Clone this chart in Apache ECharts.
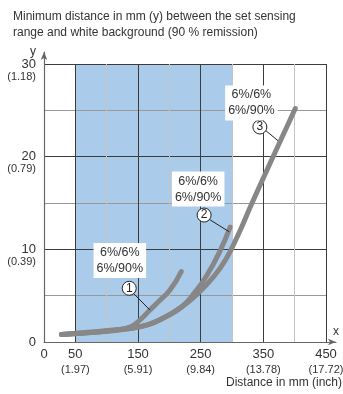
<!DOCTYPE html>
<html><head><meta charset="utf-8">
<script src="https://cdn.jsdelivr.net/npm/echarts@6/dist/echarts.min.js"></script>
<style>html,body{margin:0;padding:0;background:#fff}#c{width:343px;height:394px}</style>
</head><body><div id="c"></div>
<script>
// ---- data ----
const titleText = 'Minimum distance in mm (y) between the set sensing\nrange and white background (90 % remission)';
const xTickMm = [0, 50, 150, 250, 350, 450];
const xTickInch = ['', '(1.97)', '(5.91)', '(9.84)', '(13.78)', '(17.72)'];
const yTickMm = [0, 10, 20, 30];
const yTickInch = ['', '(0.39)', '(0.79)', '(1.18)'];
const xAxisName = 'Distance in mm (inch)';
const bandX = [50, 300];
const bandTop = 30;

const curve1X = [28, 70, 110, 137, 155, 169, 185, 201, 219];
const curve1Y = [0.8, 1.05, 1.3, 1.6, 2.5, 3.45, 4.5, 5.6, 7.6];
const curve2X = [28, 80, 130, 165, 195, 220, 240, 260, 280, 297];
const curve2Y = [0.8, 1.05, 1.4, 1.85, 2.75, 3.8, 5.3, 7.2, 9.7, 12.4];
const curve3X = [28, 80, 130, 165, 195, 220, 245, 270, 290, 310, 332, 367, 401];
const curve3Y = [0.8, 1.05, 1.4, 1.85, 2.75, 3.8, 5.2, 7.0, 8.9, 11.6, 15.0, 20.2, 25.2];

const curveText = '6%/6%\n6%/90%';
const curveNumbers = ['1', '2', '3'];
const textAnchor = [[121, 8.8], [246, 16.5], [331, 25.8]];
const circleAnchor = [[136, 5.8], [255.5, 13.7], [344.5, 23.2]];
const leaderFrom = [[142, 5.3], [264.6, 13.2], [352.3, 22.9]];
const leaderTo = [[169, 3.45], [295.4, 11.9], [377.4, 21.5]];

// ---- build ----
const FONT = 'Liberation Sans';
const TXT = '#333';
const zip = (xs, ys) => xs.map((x, i) => [x, ys[i]]);
const curves = [zip(curve1X, curve1Y), zip(curve2X, curve2Y), zip(curve3X, curve3Y)];

function curveSeries(i) {
  return {
    type: 'line', xAxisIndex: 0, yAxisIndex: 0, data: curves[i], smooth: 0.5,
    showSymbol: false, symbol: 'none', z: 3 + i,
    lineStyle: { color: '#878787', width: 5, cap: 'round', join: 'round' },
    markPoint: {
      silent: true, animation: false,
      data: [
        { coord: textAnchor[i], symbol: 'rect', symbolSize: [1, 1], itemStyle: { color: 'rgba(0,0,0,0)' },
          label: { show: true, position: 'inside', formatter: curveText, backgroundColor: '#fff', padding: [2, 3, 1, 3],
                   fontFamily: FONT, fontSize: 12.5, lineHeight: 16, color: TXT, align: 'center' } },
        { coord: circleAnchor[i], symbol: 'circle', symbolSize: 14,
          itemStyle: { color: '#fff', borderColor: '#222', borderWidth: 1 },
          label: { show: true, position: 'inside', formatter: curveNumbers[i], fontFamily: FONT, fontSize: 12, color: '#222' } }
      ]
    },
    markLine: {
      silent: true, animation: false, symbol: ['none', 'none'],
      lineStyle: { color: '#222', width: 1, type: 'solid' }, label: { show: false },
      data: [[{ coord: leaderFrom[i] }, { coord: leaderTo[i] }]]
    }
  };
}

const option = {
  animation: false,
  title: { text: titleText, left: 8, top: 4, textStyle: { fontFamily: FONT, fontSize: 12, fontWeight: 'normal', color: TXT, lineHeight: 16 } },
  grid: [
    { left: 44, right: 17, top: 64, bottom: 52, outerBoundsMode: 'none', containLabel: false },
    { left: 44, right: 7, top: 52, bottom: 52, outerBoundsMode: 'none', containLabel: false }
  ],
  xAxis: [
    { type: 'value', gridIndex: 0, min: 0, max: 450, interval: 50,
      axisLine: { show: false }, axisTick: { show: false },
      splitLine: { show: true, lineStyle: { color: ['#c4c4c4', '#3c3c3c'], width: 1 } },
      axisLabel: { margin: 5, showMinLabel: true, showMaxLabel: true, hideOverlap: false,
        formatter: v => { const k = xTickMm.indexOf(v); if (k < 0) return ''; return '{a|' + v + '}' + (xTickInch[k] ? '\n{b|' + xTickInch[k] + '}' : ''); },
        rich: { a: { fontFamily: FONT, fontSize: 13, lineHeight: 15, color: TXT }, b: { fontFamily: FONT, fontSize: 11, lineHeight: 15, color: TXT } } },
      name: xAxisName, nameLocation: 'end', nameGap: 16,
      nameTextStyle: { fontFamily: FONT, fontSize: 12, color: TXT, align: 'right', verticalAlign: 'top', padding: [35, 0, 0, 0] } },
    { type: 'value', gridIndex: 1, min: 0, max: 1,
      axisLine: { show: true, symbol: ['none', 'arrow'], symbolSize: [5, 8], lineStyle: { color: '#666', width: 1.2 } },
      axisTick: { show: false }, axisLabel: { show: false }, splitLine: { show: false },
      name: 'x', nameLocation: 'end', nameGap: 0,
      nameTextStyle: { fontFamily: FONT, fontSize: 12, color: TXT, align: 'center', verticalAlign: 'bottom', padding: [0, 0, 4, 0] } }
  ],
  yAxis: [
    { type: 'value', gridIndex: 0, min: 0, max: 30, interval: 5,
      axisLine: { show: false }, axisTick: { show: false },
      splitLine: { show: true, lineStyle: { color: ['#3c3c3c', '#999'], width: 1 } },
      axisLabel: { margin: 8, align: 'right', padding: [13, 0, 0, 0], showMinLabel: true, showMaxLabel: true,
        formatter: v => { const k = yTickMm.indexOf(v); if (k < 0) return ''; return '{a|' + v + '}\n{b|' + (yTickInch[k] || ' ') + '}'; },
        rich: { a: { fontFamily: FONT, fontSize: 13, lineHeight: 12, color: TXT, align: 'right' }, b: { fontFamily: FONT, fontSize: 11, lineHeight: 13, color: TXT, align: 'right' } } } },
    { type: 'value', gridIndex: 1, min: 0, max: 1,
      axisLine: { show: true, symbol: ['none', 'arrow'], symbolSize: [5, 8], lineStyle: { color: '#666', width: 1.2 } },
      axisTick: { show: false }, axisLabel: { show: false }, splitLine: { show: false },
      name: 'y', nameLocation: 'end', nameGap: -6,
      nameTextStyle: { fontFamily: FONT, fontSize: 12, color: TXT, align: 'right', verticalAlign: 'bottom', padding: [0, 8, 0, 0] } }
  ],
  series: [
    { type: 'line', xAxisIndex: 0, yAxisIndex: 0, z: -1, silent: true, symbol: 'none', showSymbol: false,
      data: [[bandX[0], bandTop], [bandX[1], bandTop]],
      lineStyle: { width: 0, opacity: 0 }, areaStyle: { color: '#aacbea', opacity: 1, origin: 'start' } },
    curveSeries(0), curveSeries(1), curveSeries(2)
  ]
};
echarts.init(document.getElementById('c'), null, { renderer: 'canvas' }).setOption(option);
</script></body></html>
